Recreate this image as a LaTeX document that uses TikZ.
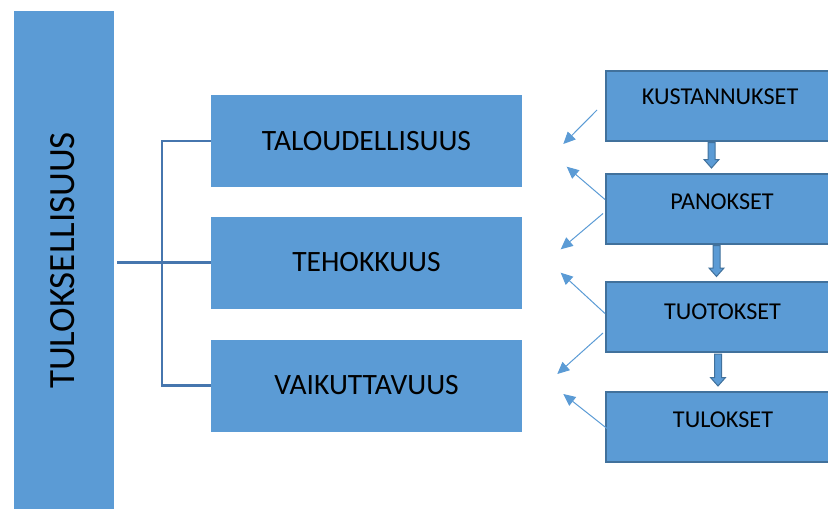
\documentclass[tikz,border=0pt]{standalone}
\usepackage{fontspec}
\setmainfont{Carlito}
\usetikzlibrary{arrows.meta,calc}
\definecolor{boxblue}{HTML}{5B9BD5}
\definecolor{edgeblue}{HTML}{41719C}
\definecolor{linkblue}{HTML}{4676AE}
\tikzset{
  x=1pt,y=-1pt,
  bar/.style={fill=boxblue,draw=none,inner sep=0pt},
  midbox/.style={fill=boxblue,draw=none,minimum width=311pt,minimum height=92pt,inner sep=0pt,font=\fontsize{29.5}{32}\selectfont},
  rbox/.style={fill=boxblue,draw=edgeblue,line width=2pt,minimum width=230pt,minimum height=70pt,inner sep=0pt},
  rtext/.style={inner sep=0pt,font=\fontsize{24.2}{27}\selectfont},
  bracket/.style={draw=linkblue,line width=2.2pt},
  thinarrow/.style={draw=boxblue,line width=1pt,-{Triangle[length=12pt,width=11pt]}},
  barrow/.style={fill=boxblue,draw=edgeblue,line width=1pt,line join=miter}
}
\begin{document}
\begin{tikzpicture}
\useasboundingbox (0,0) rectangle (828,509);
\clip (0,0) rectangle (828,509);
% left bar
\node[bar,minimum width=100pt,minimum height=510pt] (bar) at (64,266) {};
\node[rotate=90,inner sep=0pt,font=\fontsize{37}{40}\selectfont] (bart) at (62.5,260.5) {TULOKSELLISUUS};
% middle boxes
\node[midbox] (tal) at (366.5,141) {TALOUDELLISUUS};
\node[midbox] (teh) at (366.5,262.5) {TEHOKKUUS};
\node[midbox] (vai) at (366.5,385.5) {VAIKUTTAVUUS};
% bracket
\coordinate (bx) at (162.3,0);
\draw[bracket] (bar.east |- teh.west) ++(3,0) -- (teh.west);
\draw[bracket] (tal.west) -- (tal.west -| bx) -- (vai.west -| bx) -- (vai.west);
% right boxes
\node[rbox] (kus) at (721,105.5) {};
\node[rbox] (pan) at (721,208.5) {};
\node[rbox] (tuo) at (721,317) {};
\node[rbox] (tul) at (721,426.5) {};
\node[rtext] (kust) at (720,97) {KUSTANNUKSET};
\node[rtext] (pant) at (722,201.7) {PANOKSET};
\node[rtext] (tuot) at (722.5,311.5) {TUOTOKSET};
\node[rtext] (tult) at (723,420) {TULOKSET};
% block arrows
\foreach \a/\b/\ax in {kus/pan/711.5,pan/tuo/716.5,tuo/tul/718}{
  \draw[barrow] let \p1=(\a.south -| \ax,0), \p2=(\b.north -| \ax,0) in
    (\x1-3.5pt,\y1-1pt) -- (\x1+3.5pt,\y1-1pt) -- (\x1+3.5pt,\y2+13pt) -- (\x1+7.5pt,\y2+13pt)
    -- (\x1,\y2+4.5pt) -- (\x1-7.5pt,\y2+13pt) -- (\x1-3.5pt,\y2+13pt) -- cycle;
}
% thin arrows
\coordinate (t1) at (563.3,144);
\coordinate (t2) at (566.7,166.7);
\coordinate (t3) at (560.7,249.3);
\coordinate (t4) at (560.7,272.7);
\coordinate (t5) at (557.3,374);
\coordinate (t6) at (563.3,394);
\draw[thinarrow] ($(kus.west)+(-8,4.5)$) -- (t1);
\draw[thinarrow] ($(pan.west)+(0,-9)$) -- (t2);
\draw[thinarrow] ($(pan.west)+(-2,5)$) -- (t3);
\draw[thinarrow] ($(tuo.west)+(0,-3.5)$) -- (t4);
\draw[thinarrow] ($(tuo.west)+(-2,16)$) -- (t5);
\draw[thinarrow] ($(tul.west)+(2,2)$) -- (t6);
\end{tikzpicture}
\end{document}
